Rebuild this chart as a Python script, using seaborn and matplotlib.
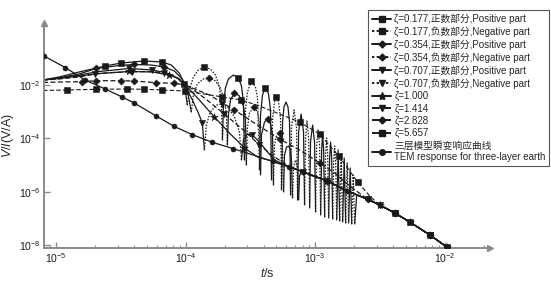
import numpy as np
import pandas as pd
import matplotlib
matplotlib.use('Agg')
import matplotlib.pyplot as plt
import seaborn as sns
from matplotlib.lines import Line2D
from matplotlib.ticker import LogLocator, NullLocator, NullFormatter

nan = np.nan

# ---- data (log10 of t in s, log10 of V/I in V/A) ----
tem_logt = [-5.093, -4.930, -4.776, -4.621, -4.490, -4.397, -4.227, -4.087, -3.948, -3.794, -3.631,
            -3.329, -3.206, -3.097, -2.912, -2.757, -2.595, -2.502, -2.386, -2.270, -2.115, -1.984]
tem_logv = [-0.914, -1.345, -1.813, -2.150, -2.449, -2.674, -3.161, -3.554, -3.861, -4.146, -4.386,
            -4.858, -5.060, -5.247, -5.584, -5.959, -6.281, -6.494, -6.794, -7.131, -7.618, -8.067]

z177_pos_logt = [-5.101, -4.977, -4.822, -4.621, -4.497, -4.319, -4.180, -4.111, -4.049, -4.010, -3.987, nan,
                 -3.716, -3.708, -3.693, -3.670, -3.631, -3.592, -3.569, -3.554, -3.546, nan,
                 -3.430, -3.422, -3.407, -3.384, -3.360, -3.345, -3.337, nan,
                 -3.260, -3.252, -3.241, -3.225, -3.210, -3.198, -3.190, nan,
                 -3.136, -3.128, -3.109, -3.090, -3.082, nan,
                 -3.043, -3.036, -3.020, -3.005, -2.997, nan,
                 -2.958, -2.950, -2.943, -2.935, -2.927, nan,
                 -2.896, -2.889, -2.881, -2.873, -2.865, nan,
                 -2.834, -2.823, -2.811, nan,
                 -2.788, -2.776, -2.765, nan,
                 -2.742, -2.730, -2.718, nan,
                 -2.695, -2.680, -2.595, -2.502, -2.386, -2.270, -2.115, -1.984]
z177_pos_logv = [-1.813, -1.700, -1.513, -1.288, -1.176, -1.101, -1.139, -1.251, -1.551, -1.963, -2.749, nan,
                 -4.060, -2.749, -2.112, -1.775, -1.625, -1.738, -2.037, -2.637, -4.809, nan,
                 -5.184, -3.124, -2.375, -2.112, -2.337, -2.936, -5.558, nan,
                 -5.933, -3.386, -2.824, -2.637, -2.824, -3.386, -6.120, nan,
                 -6.307, -3.760, -3.086, -3.760, -6.494, nan,
                 -6.607, -4.135, -3.498, -4.135, -6.757, nan,
                 -6.869, -4.434, -3.835, -4.434, -6.944, nan,
                 -6.981, -4.734, -4.135, -4.734, -7.019, nan,
                 -7.056, -4.434, -7.094, nan,
                 -7.131, -4.734, -7.169, nan,
                 -7.169, -5.109, -7.206, nan,
                 -7.206, -6.120, -6.281, -6.494, -6.794, -7.131, -7.618, -8.067]
z177_pos_marks = [3, 4, 5, 6, 9, 17, 25, 79, 81]

z177_neg_logt = [-3.987, -3.971, -3.940, -3.902, -3.855, -3.809, -3.770, -3.739, -3.724, -3.716, nan,
                 -3.546, -3.538, -3.523, -3.492, -3.461, -3.445, -3.430, nan,
                 -3.337, -3.329, -3.314, -3.299, -3.283, -3.268, -3.260, nan,
                 -3.190, -3.183, -3.163, -3.144, -3.136, nan,
                 -3.082, -3.074, -3.063, -3.051, -3.043, nan,
                 -2.997, -2.989, -2.978, -2.966, -2.958, nan,
                 -2.927, -2.920, -2.912, -2.904, -2.896, nan,
                 -2.865, -2.858, -2.850, -2.842, -2.834, nan,
                 -2.811, -2.800, -2.788, nan,
                 -2.765, -2.753, -2.742, nan,
                 -2.718, -2.707, -2.695]
z177_neg_logv = [-2.749, -2.187, -1.700, -1.438, -1.326, -1.401, -1.625, -2.075, -2.749, -4.060, nan,
                 -4.809, -2.936, -2.262, -1.850, -2.075, -2.487, -5.184, nan,
                 -5.558, -3.311, -2.637, -2.449, -2.637, -3.236, -5.933, nan,
                 -6.120, -3.610, -2.936, -3.610, -6.307, nan,
                 -6.494, -3.985, -3.348, -3.985, -6.607, nan,
                 -6.757, -4.285, -3.685, -4.285, -6.869, nan,
                 -6.944, -4.584, -3.985, -4.584, -6.981, nan,
                 -7.019, -4.884, -4.285, -4.884, -7.056, nan,
                 -7.094, -4.584, -7.131, nan,
                 -7.169, -4.921, -7.169, nan,
                 -7.206, -5.371, -7.206]
z177_neg_marks = [4, 14, 22]

z354_pos_logt = [-5.101, -4.977, -4.822, -4.691, -4.513, -4.397, -4.265, -4.165, -4.087, -4.026, -3.987, -3.956, nan,
                 -3.678, -3.670, -3.654, -3.623, -3.585, -3.554, -3.538, -3.531, nan,
                 -3.422, -3.415, -3.391, -3.368, -3.345, -3.329, -3.322, nan,
                 -3.244, -3.237, -3.221, -3.206, -3.190, -3.183, -3.175, nan,
                 -3.128, -3.121, -3.105, -3.043, -2.912, -2.757, -2.595, -2.502, -2.386, -2.270, -2.115, -1.984]
z354_pos_logv = [-1.813, -1.738, -1.588, -1.382, -1.270, -1.232, -1.251, -1.326, -1.476, -1.775, -2.187, -3.011, nan,
                 -4.247, -3.124, -2.562, -2.300, -2.412, -2.787, -3.311, -4.996, nan,
                 -5.371, -3.873, -3.386, -3.273, -3.461, -3.873, -5.745, nan,
                 -6.007, -4.622, -4.322, -4.285, -4.434, -4.809, -6.232, nan,
                 -6.307, -5.408, -5.184, -5.371, -5.584, -5.959, -6.281, -6.494, -6.794, -7.131, -7.618, -8.067]
z354_pos_marks = [3, 5, 7, 16, 25, 42, 46, 48]

z354_neg_logt = [-3.956, -3.940, -3.910, -3.863, -3.817, -3.770, -3.732, -3.701, -3.685, -3.678, nan,
                 -3.531, -3.523, -3.507, -3.476, -3.445, -3.430, -3.422, nan,
                 -3.322, -3.314, -3.299, -3.275, -3.260, -3.252, -3.244, nan,
                 -3.175, -3.167, -3.152, -3.136, -3.128]
z354_neg_logv = [-3.011, -2.375, -1.963, -1.775, -1.738, -1.850, -2.112, -2.562, -3.124, -4.247, nan,
                 -4.996, -3.610, -3.049, -2.824, -3.011, -3.461, -5.371, nan,
                 -5.745, -4.247, -3.910, -3.798, -3.985, -4.434, -6.007, nan,
                 -6.232, -5.109, -4.809, -5.109, -6.307]
z354_neg_marks = [4, 14, 22]

z707_pos_logt = [-5.101, -4.977, -4.822, -4.667, -4.435, -4.258, -4.142, -4.064, -4.002, -3.948, -3.902, -3.871, -3.855, nan,
                 -3.569, -3.554, -3.523, -3.484, -3.430, -3.368, -3.314, -3.206, -3.097, -2.912, -2.757, -2.595,
                 -2.502, -2.386, -2.270, -2.115, -1.984]
z707_pos_logv = [-1.813, -1.738, -1.625, -1.494, -1.382, -1.438, -1.551, -1.738, -2.037, -2.562, -3.049, -3.423, -4.434, nan,
                 -4.809, -4.060, -3.835, -3.873, -4.135, -4.509, -4.809, -5.060, -5.247, -5.584, -5.959, -6.281,
                 -6.494, -6.794, -7.131, -7.618, -8.067]
z707_pos_marks = [4, 5, 11, 17, 23, 26, 29]

z707_neg_logt = [-3.855, -3.840, -3.809, -3.763, -3.716, -3.670, -3.623, -3.585, -3.569]
z707_neg_logv = [-4.434, -3.498, -3.011, -2.749, -2.712, -2.861, -3.199, -3.760, -4.809]
z707_neg_marks = [4]

z1000_logt = [-5.101, -4.977, -4.822, -4.667, -4.435, -4.258, -4.126, -4.049, -4.002, -3.894, -3.778, -3.662, -3.546,
              -3.445, -3.329, -3.206, -3.097, -2.912, -2.757, -2.595, -2.502, -2.386, -2.270, -2.115, -1.984]
z1000_logv = [-1.813, -1.757, -1.663, -1.569, -1.494, -1.513, -1.625, -1.775, -2.000, -2.562, -3.199, -3.798, -4.360,
              -4.697, -4.858, -5.060, -5.247, -5.584, -5.959, -6.281, -6.494, -6.794, -7.131, -7.618, -8.067]
z1000_marks = [4, 6, 10, 12, 17, 20, 22, 24]

z1414_logt = [-5.101, -4.977, -4.822, -4.698, -4.590, -4.412, -4.265, -4.165, -4.072, -4.002, -3.855, -3.701, -3.546,
              -3.430, -3.314, -3.206, -3.097, -2.912, -2.757, -2.595, -2.502, -2.386, -2.270, -2.115, -1.984]
z1414_logv = [-1.813, -1.775, -1.700, -1.588, -1.539, -1.502, -1.494, -1.551, -1.700, -1.963, -2.487, -3.086, -3.723,
              -4.247, -4.697, -5.034, -5.247, -5.584, -5.959, -6.281, -6.494, -6.794, -7.131, -7.618, -8.067]
z1414_marks = [3, 5, 7, 11, 13, 16, 19, 21, 23]

z2828_logt = [-5.101, -4.977, -4.799, -4.691, -4.497, -4.397, -4.227, -4.087, -4.002, -3.817, -3.623, -3.469,
              -3.275, -3.121, -2.966, -2.850, -2.734, -2.595, -2.502, -2.386, -2.270, -2.115, -1.984]
z2828_logv = [-1.906, -1.888, -1.876, -1.839, -1.839, -1.850, -1.914, -1.936, -2.000, -2.375, -2.936, -3.423,
              -4.022, -4.434, -4.921, -5.296, -5.783, -6.281, -6.494, -6.794, -7.131, -7.618, -8.067]
z2828_marks = [2, 3, 4, 5, 6, 7, 10, 12, 14, 17, 19, 21]

z5657_logt = [-5.101, -4.915, -4.691, -4.451, -4.319, -4.180, -4.002, -3.855, -3.716, -3.569, -3.430, -3.275,
              -3.121, -2.966, -2.819, -2.672, -2.579, -2.502, -2.386, -2.270, -2.115, -1.984]
z5657_logv = [-2.206, -2.187, -2.161, -2.150, -2.161, -2.187, -2.225, -2.337, -2.449, -2.562, -2.787, -3.086,
              -3.386, -3.835, -4.659, -5.633, -6.157, -6.494, -6.794, -7.131, -7.618, -8.067]
z5657_marks = [1, 2, 3, 4, 5, 6, 8, 9, 12, 13, 14, 15, 18, 20]

labels = ['ζ=0.177,正数部分,Positive part', 'ζ=0.177,负数部分,Negative part',
          'ζ=0.354,正数部分,Positive part', 'ζ=0.354,负数部分,Negative part',
          'ζ=0.707,正数部分,Positive part', 'ζ=0.707,负数部分,Negative part',
          'ζ=1.000', 'ζ=1.414', 'ζ=2.828', 'ζ=5.657',
          '三层模型瞬变响应曲线\nTEM response for three-layer earth']

# ---- style ----
sns.set_theme(style='white')
plt.rcParams['font.family'] = ['Liberation Sans', 'Noto Sans CJK SC', 'DejaVu Sans']
plt.rcParams['mathtext.fontset'] = 'custom'
plt.rcParams['mathtext.rm'] = 'Liberation Sans'
plt.rcParams['mathtext.it'] = 'Liberation Sans:italic'

SOLID = '-'
DOT = (0, (1.2, 1.2))
DASH = (0, (4, 2))
GRAY = '#8a8a8a'

fig = plt.figure(figsize=(5.51, 2.86), dpi=100)
ax = fig.add_axes([44 / 551, 1 - 248 / 286, (490 - 44) / 551, (248 - 23) / 286])
ax.set_xscale('log')
ax.set_yscale('log')


def draw(logt, logv, ls, marker, marks, ms, lw=0.9):
    lt = np.asarray(logt, float)
    lv = np.asarray(logv, float)
    seg = np.cumsum(np.isnan(lt))
    df = pd.DataFrame({'t': 10 ** lt, 'V': 10 ** lv, 'seg': seg}).dropna()
    sns.lineplot(data=df, x='t', y='V', units='seg', estimator=None, sort=False,
                 color='k', linestyle=ls, lw=lw, ax=ax, legend=False)
    idx = np.asarray(marks, int)
    sns.scatterplot(x=10 ** lt[idx], y=10 ** lv[idx], marker=marker, s=ms, color='k',
                    edgecolor='k', linewidth=0.4, ax=ax, legend=False, zorder=3)


draw(tem_logt, tem_logv, SOLID, 'o', list(range(len(tem_logt))), 13)
draw(z5657_logt, z5657_logv, DASH, 's', z5657_marks, 18, lw=0.8)
draw(z2828_logt, z2828_logv, DASH, 'D', z2828_marks, 13)
draw(z1414_logt, z1414_logv, DASH, 'v', z1414_marks, 20)
draw(z1000_logt, z1000_logv, SOLID, '*', z1000_marks, 32)
draw(z707_pos_logt, z707_pos_logv, SOLID, 'v', z707_pos_marks, 20)
draw(z707_neg_logt, z707_neg_logv, DOT, 'v', z707_neg_marks, 20)
draw(z354_pos_logt, z354_pos_logv, SOLID, 'D', z354_pos_marks, 13)
draw(z354_neg_logt, z354_neg_logv, DOT, 'D', z354_neg_marks, 13)
draw(z177_pos_logt, z177_pos_logv, SOLID, 's', z177_pos_marks, 18)
draw(z177_neg_logt, z177_neg_logv, DOT, 's', z177_neg_marks, 18)

ax.set_xlim(10 ** -5.093, 10 ** -1.651)
ax.set_ylim(10 ** -8.105, 10 ** 0.322)
ax.set_xticks([1e-5, 1e-4, 1e-3, 1e-2])
ax.xaxis.set_minor_locator(LogLocator(base=10, subs=np.arange(2, 10), numticks=20))
ax.xaxis.set_minor_formatter(NullFormatter())
ax.set_yticks([1e-8, 1e-6, 1e-4, 1e-2])
ax.yaxis.set_minor_locator(NullLocator())
ax.tick_params(which='major', direction='in', color=GRAY, length=4, width=1,
               labelsize=7.5, pad=2.5, labelcolor='k')
ax.tick_params(which='minor', direction='in', color=GRAY, length=2.5, width=0.8)
ax.tick_params(axis='x', which='both', bottom=True)
ax.tick_params(axis='y', which='both', left=True)

for s in ['top', 'right']:
    ax.spines[s].set_visible(False)
for s in ['left', 'bottom']:
    ax.spines[s].set_color(GRAY)
    ax.spines[s].set_linewidth(1.4)
ax.plot([1], [0], marker='>', ms=5, color=GRAY, transform=ax.transAxes, clip_on=False)
ax.plot([0], [1], marker='^', ms=5, color=GRAY, transform=ax.transAxes, clip_on=False)

ax.set_ylabel(r'$V/I$(V/A)', fontsize=9)
ax.yaxis.set_label_coords(-0.062, 0.5)
ax.set_xlabel(r'$t$/s', fontsize=9, labelpad=1)

handles = [
    Line2D([], [], color='k', ls=SOLID, lw=1.4, marker='s', ms=4),
    Line2D([], [], color='k', ls=DOT, lw=1.4, marker='s', ms=4),
    Line2D([], [], color='k', ls=SOLID, lw=1.4, marker='D', ms=3.5),
    Line2D([], [], color='k', ls=DOT, lw=1.4, marker='D', ms=3.5),
    Line2D([], [], color='k', ls=SOLID, lw=1.4, marker='v', ms=4.5),
    Line2D([], [], color='k', ls=DOT, lw=1.4, marker='v', ms=4.5),
    Line2D([], [], color='k', ls=SOLID, lw=1.4, marker='*', ms=6),
    Line2D([], [], color='k', ls=DASH, lw=1.4, marker='v', ms=4.5),
    Line2D([], [], color='k', ls=DASH, lw=1.4, marker='D', ms=3.5),
    Line2D([], [], color='k', ls=DASH, lw=1.4, marker='s', ms=4),
    Line2D([], [], color='k', ls=SOLID, lw=1.4, marker='o', ms=4),
]
leg = fig.legend(handles, labels, loc='upper right', bbox_to_anchor=(549 / 551, 1 - 10 / 286),
                 fontsize=7, frameon=True, fancybox=False, edgecolor='#555555', framealpha=1,
                 borderpad=0.35, labelspacing=0.24, handlelength=2.0, handletextpad=0.3,
                 borderaxespad=0)
leg.get_frame().set_linewidth(0.8)

fig.savefig('out.png', dpi=100)
